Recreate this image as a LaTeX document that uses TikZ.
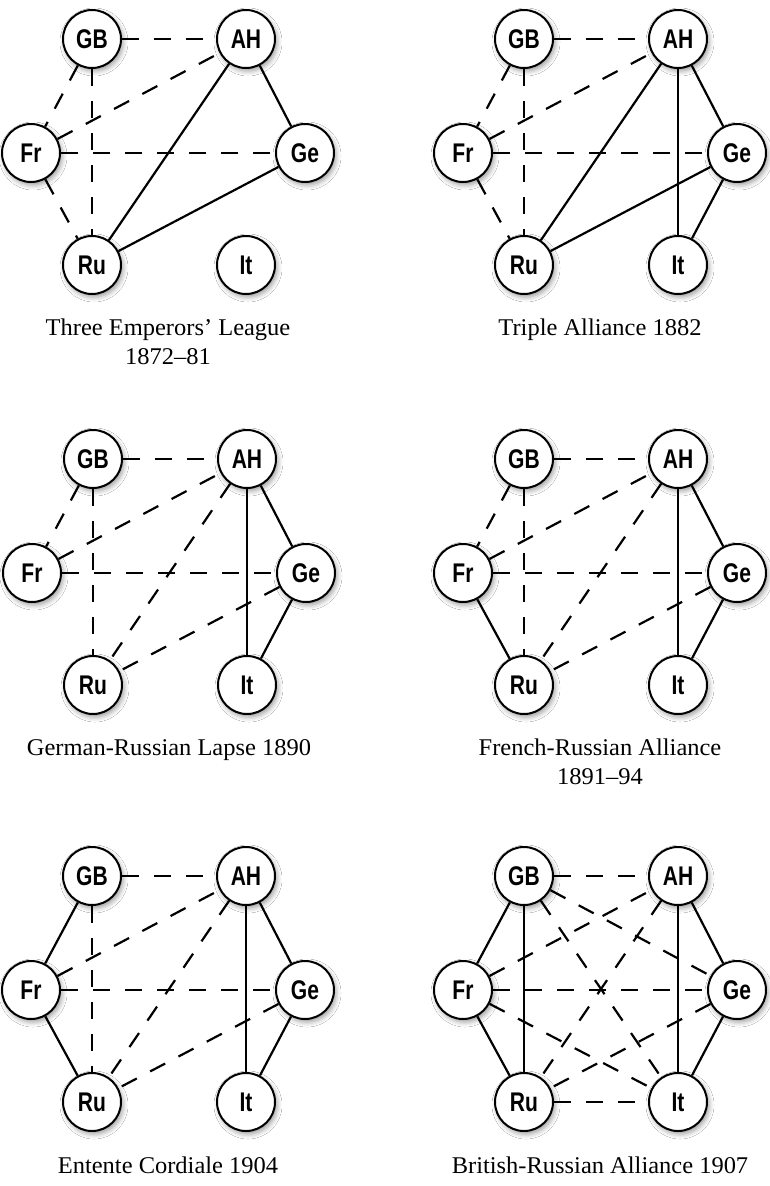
\documentclass[tikz,border=0pt]{standalone}
\usepackage{fontspec}
\setmainfont{Liberation Serif}
\newfontfamily\nodefont[FakeStretch=0.78]{Liberation Sans}
\newfontfamily\capfont[FakeStretch=1.02]{Liberation Serif}
\usetikzlibrary{shadows.blur}
\tikzset{
  country/.style={circle, draw=black, line width=2pt, fill=white,
    minimum size=58pt, inner sep=0pt,
    font=\nodefont\bfseries\fontsize{27}{27}\selectfont,
    blur shadow={shadow xshift=2pt, shadow yshift=-3pt, shadow blur radius=5pt, shadow opacity=40}},
  sol/.style={line width=2.2pt},
  dsh/.style={line width=2.2pt, dash pattern=on 17pt off 15pt},
  caption/.style={font=\capfont\fontsize{24}{29}\selectfont, align=center, anchor=base}
}
\newcommand\mkpanel[3]{%
  \node[country] (#1GB) at (#2,#3) {GB};
  \node[country] (#1AH) at (#2+154,#3) {AH};
  \node[country] (#1Fr) at (#2-61,#3+114) {Fr};
  \node[country] (#1Ge) at (#2+213,#3+114) {Ge};
  \node[country] (#1Ru) at (#2,#3+226) {Ru};
  \node[country] (#1It) at (#2+154,#3+226) {It};
}
\begin{document}
\begin{tikzpicture}[x=1pt,y=-1pt]
\useasboundingbox[fill=white] (0,0) rectangle (770,1186);
% Panel 1
\mkpanel{a}{92}{39}
\draw[dsh] (aGB) -- (aAH);
\draw[dsh] (aGB) -- (aFr);
\draw[dsh] (aGB) -- (aRu);
\draw[dsh] (aFr) -- (aAH);
\draw[dsh] (aFr) -- (aGe);
\draw[dsh] (aFr) -- (aRu);
\draw[sol] (aAH) -- (aRu);
\draw[sol] (aAH) -- (aGe);
\draw[sol] (aGe) -- (aRu);
\node[caption] (capa) at (168,364) {Three Emperors’ League\\1872–81};
% Panel 2
\mkpanel{b}{524}{39}
\draw[dsh] (bGB) -- (bAH);
\draw[dsh] (bGB) -- (bFr);
\draw[dsh] (bGB) -- (bRu);
\draw[dsh] (bFr) -- (bAH);
\draw[dsh] (bFr) -- (bGe);
\draw[dsh] (bFr) -- (bRu);
\draw[sol] (bAH) -- (bRu);
\draw[sol] (bAH) -- (bIt);
\draw[sol] (bAH) -- (bGe);
\draw[sol] (bGe) -- (bRu);
\draw[sol] (bGe) -- (bIt);
\node[caption] (capb) at (600,335) {Triple Alliance 1882};
% Panel 3
\mkpanel{c}{93}{459}
\draw[dsh] (cGB) -- (cAH);
\draw[dsh] (cGB) -- (cFr);
\draw[dsh] (cGB) -- (cRu);
\draw[dsh] (cFr) -- (cAH);
\draw[dsh] (cFr) -- (cGe);
\draw[dsh] (cAH) -- (cRu);
\draw[dsh] (cGe) -- (cRu);
\draw[sol] (cAH) -- (cIt);
\draw[sol] (cAH) -- (cGe);
\draw[sol] (cGe) -- (cIt);
\node[caption] (capc) at (169,755) {German-Russian Lapse 1890};
% Panel 4
\mkpanel{d}{524}{459}
\draw[dsh] (dGB) -- (dAH);
\draw[dsh] (dGB) -- (dFr);
\draw[dsh] (dGB) -- (dRu);
\draw[dsh] (dFr) -- (dAH);
\draw[dsh] (dFr) -- (dGe);
\draw[dsh] (dAH) -- (dRu);
\draw[dsh] (dGe) -- (dRu);
\draw[sol] (dFr) -- (dRu);
\draw[sol] (dAH) -- (dIt);
\draw[sol] (dAH) -- (dGe);
\draw[sol] (dGe) -- (dIt);
\node[caption] (capd) at (600,784) {French-Russian Alliance\\1891–94};
% Panel 5
\mkpanel{e}{92}{876}
\draw[dsh] (eGB) -- (eAH);
\draw[dsh] (eGB) -- (eRu);
\draw[dsh] (eFr) -- (eAH);
\draw[dsh] (eFr) -- (eGe);
\draw[dsh] (eAH) -- (eRu);
\draw[dsh] (eGe) -- (eRu);
\draw[sol] (eGB) -- (eFr);
\draw[sol] (eFr) -- (eRu);
\draw[sol] (eAH) -- (eIt);
\draw[sol] (eAH) -- (eGe);
\draw[sol] (eGe) -- (eIt);
\node[caption] (cape) at (168,1173) {Entente Cordiale 1904};
% Panel 6
\mkpanel{f}{524}{876}
\draw[dsh] (fGB) -- (fAH);
\draw[dsh] (fGB) -- (fGe);
\draw[dsh] (fGB) -- (fIt);
\draw[dsh] (fFr) -- (fAH);
\draw[dsh] (fFr) -- (fGe);
\draw[dsh] (fFr) -- (fIt);
\draw[dsh] (fAH) -- (fRu);
\draw[dsh] (fGe) -- (fRu);
\draw[dsh] (fRu) -- (fIt);
\draw[sol] (fGB) -- (fFr);
\draw[sol] (fGB) -- (fRu);
\draw[sol] (fFr) -- (fRu);
\draw[sol] (fAH) -- (fIt);
\draw[sol] (fAH) -- (fGe);
\draw[sol] (fGe) -- (fIt);
\node[caption] (capf) at (600,1173) {British-Russian Alliance 1907};
\end{tikzpicture}
\end{document}
